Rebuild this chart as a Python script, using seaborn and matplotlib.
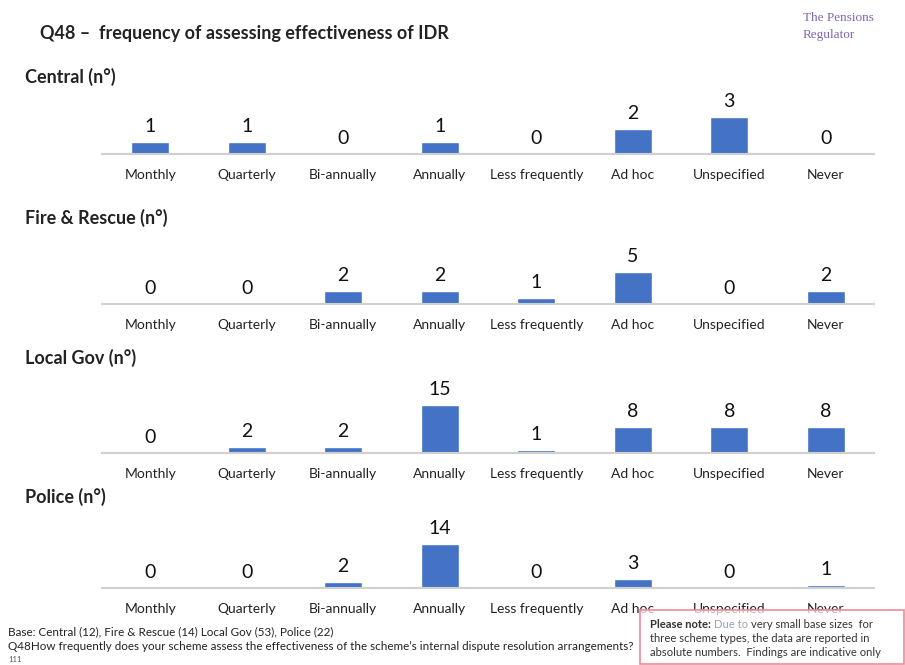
import matplotlib
matplotlib.use("Agg")
import matplotlib.pyplot as plt
import seaborn as sns
import pandas as pd
from matplotlib.patches import Rectangle

# Response counts per scheme type
categories = ["Monthly", "Quarterly", "Bi-annually", "Annually",
              "Less frequently", "Ad hoc", "Unspecified", "Never"]
central = [1, 1, 0, 1, 0, 2, 3, 0]
fire_rescue = [0, 0, 2, 2, 1, 5, 0, 2]
local_gov = [0, 2, 2, 15, 1, 8, 8, 8]
police = [0, 0, 2, 14, 0, 3, 0, 1]
panel_titles = ["Central (n\u00b0)", "Fire & Rescue (n\u00b0)", "Local Gov (n\u00b0)", "Police (n\u00b0)"]
series = [central, fire_rescue, local_gov, police]

sns.set_theme(style="white")
plt.rcParams["font.family"] = ["Lato", "DejaVu Sans"]

W, H = 905, 665
fig = plt.figure(figsize=(W / 100, H / 100), dpi=100)
fig.patch.set_facecolor("white")

BAR = "#4472C4"
AXIS = "#d0d0d0"

# layout in pixels: baseline of each panel, its title row, pixels per unit
baselines = [154, 304, 453, 588]
title_rows = [77, 218, 358, 497]
px_per_unit = [12.3, 6.4, 3.2, 3.15]
ax_h = 70
x0, x1 = 102, 874

for vals, title, base, trow, ppu in zip(series, panel_titles, baselines, title_rows, px_per_unit):
    ax = fig.add_axes([x0 / W, 1 - base / H, (x1 - x0) / W, ax_h / H])
    df = pd.DataFrame({"category": categories, "count": vals})
    sns.barplot(data=df, x="category", y="count", color=BAR, width=0.39,
                saturation=1, ax=ax, zorder=2)
    ax.set_xlim(-0.5, len(categories) - 0.5)
    ax.set_ylim(0, ax_h / ppu)
    ax.set_facecolor("none")
    for s in ["top", "right", "left"]:
        ax.spines[s].set_visible(False)
    ax.spines["bottom"].set_color(AXIS)
    ax.spines["bottom"].set_linewidth(1.5)
    ax.set_yticks([])
    ax.set_xlabel("")
    ax.set_ylabel("")
    ax.tick_params(axis="x", length=0, pad=11, labelsize=10, labelcolor="#222222")
    ax.set_xticks(range(len(categories)), categories)
    ax.set_xticks([i - 0.5 for i in range(len(categories) + 1)], minor=True)
    ax.tick_params(axis="x", which="minor", length=3, color=AXIS, width=1, direction="out")
    for i, v in enumerate(vals):
        ax.annotate(str(v), (i, v), xytext=(0, 5), textcoords="offset points",
                    ha="center", va="bottom", fontsize=14, color="#111111")
    fig.text(25 / W, 1 - trow / H, title, fontsize=13, fontweight="bold",
             color="#222222", va="center", ha="left")

# heading and brand
fig.text(40 / W, 1 - 33 / H, "Q48 \u2013  frequency of assessing effectiveness of IDR",
         fontsize=13, fontweight="bold", color="#222222", va="center", ha="left")
fig.text(803 / W, 1 - 18 / H, "The Pensions", family="Liberation Serif", fontsize=9.5,
         color="#8066b0", ha="left", va="center")
fig.text(803 / W, 1 - 35 / H, "Regulator", family="Liberation Serif", fontsize=9.5,
         color="#8066b0", ha="left", va="center")

# footnotes
fig.text(8 / W, 1 - 632 / H, "Base: Central (12), Fire & Rescue (14) Local Gov (53), Police (22)",
         fontsize=8.4, color="#222222", va="center", ha="left")
fig.text(8 / W, 1 - 646 / H,
         "Q48How frequently does your scheme assess the effectiveness of the scheme\u2019s internal dispute resolution arrangements?",
         fontsize=8.4, color="#222222", va="center", ha="left")
fig.text(8 / W, 1 - 660 / H, "111", fontsize=5.5, color="#555555", va="center", ha="left")

# note box
box = Rectangle((640 / W, 0), (W - 641) / W, (H - 610) / H, transform=fig.transFigure,
                facecolor="white", alpha=0.7, edgecolor="none", zorder=5)
fig.add_artist(box)
border = Rectangle((640 / W, 0.002), (W - 641) / W, (H - 611) / H, transform=fig.transFigure,
                   facecolor="none", edgecolor="#f08a9a", lw=1.2, zorder=6)
fig.add_artist(border)
note_x = 650 / W
fs = 8.1
t = fig.text(note_x, 1 - 624 / H, "Please note:", fontsize=fs, fontweight="bold",
             color="#333333", va="center", ha="left", zorder=7)
fig.canvas.draw()
r = fig.canvas.get_renderer()
bb = t.get_window_extent(r)
t2 = fig.text(bb.x1 / W + 3 / W, 1 - 624 / H, "Due to", fontsize=fs, color="#9aa3b5",
              va="center", ha="left", zorder=7)
bb2 = t2.get_window_extent(r)
fig.text(bb2.x1 / W + 3 / W, 1 - 624 / H, "very small base sizes  for", fontsize=fs,
         color="#333333", va="center", ha="left", zorder=7)
fig.text(note_x, 1 - 638 / H, "three scheme types, the data are reported in", fontsize=fs,
         color="#333333", va="center", ha="left", zorder=7)
fig.text(note_x, 1 - 653 / H, "absolute numbers.  Findings are indicative only", fontsize=fs,
         color="#333333", va="center", ha="left", zorder=7)

fig.savefig("out.png", dpi=100, facecolor="white")
